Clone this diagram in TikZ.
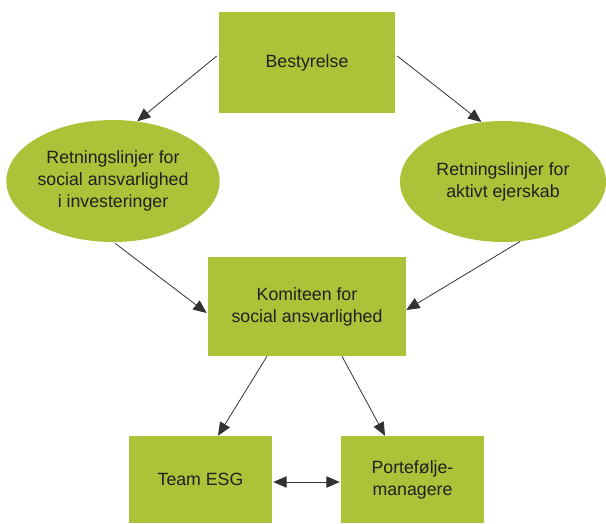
\documentclass[tikz,border=0pt]{standalone}
\usepackage{fontspec}
\setmainfont{Liberation Sans}
\usetikzlibrary{positioning, shapes.geometric, arrows.meta, calc}
\definecolor{esggreen}{RGB}{173,194,56}
\definecolor{esgtext}{RGB}{35,31,32}
\definecolor{esgline}{RGB}{50,50,50}
\tikzset{
    %Define style for boxes
    box/.style={
           rectangle,
           fill=esggreen,
           text=esgtext,
           inner sep=0pt,
           align=center,
           font=\fontsize{13.3}{16.5}\selectfont},
 %
    guidebox/.style={
           ellipse,
           fill=esggreen,
           text=esgtext,
           inner sep=0pt,
           align=center,
           font=\fontsize{13.3}{16.5}\selectfont},
%
    % Define arrow style
    arrow/.style={
           -{Triangle[length=10pt,width=8.5pt]},
           draw=esgline,
           line width=0.6pt},
    twoarrow/.style={
           arrow,
           {Triangle[length=10pt,width=8.5pt]}-{Triangle[length=10pt,width=8.5pt]}}
}
\begin{document}
\begin{tikzpicture}[x=0.75pt,y=-0.75pt]
  \useasboundingbox (0,0) rectangle (606,524);
  \node[box, minimum width=132pt, minimum height=75.75pt] (board) at (307,62.5) {Bestyrelse};
  \node[guidebox, minimum width=157.5pt, minimum height=91.5pt] (social) at (113,181)
     {Retningslinjer for\\social ansvarlighed\\i investeringer};
  \node[guidebox, minimum width=154.5pt, minimum height=90.75pt] (owner) at (503,181.5)
     {Retningslinjer for\\aktivt ejerskab};
  \node[box, minimum width=148.5pt, minimum height=74.25pt] (committee) at (307,306.5)
     {Komiteen for\\social ansvarlighed};
  \node[box, minimum width=107.25pt, minimum height=65.25pt] (team) at (200.5,479.5) {Team ESG};
  \node[box, minimum width=107.25pt, minimum height=65.25pt] (pm) at (412.5,479.5)
     {Portefølje-\\managere};
  \path
    ($(board.west)+(-2,-6.5)$) edge[arrow] (social.68.5)
    ($(board.east)+(2,-6.5)$) edge[arrow] (owner.110.8)
    ($(social.south)+(2,1)$) edge[arrow] ($(committee.west)+(-1,6.5)$)
    (owner.-74.3) edge[arrow] ($(committee.east)+(0,3.5)$)
    ($(committee.south)+(-40,0)$) edge[arrow] ($(team.north)+(17.5,0)$)
    ($(committee.south)+(35,0)$) edge[arrow] ($(pm.north)+(-27.5,0)$)
    ($(team.east)+(1,2.5)$) edge[twoarrow] ($(pm.west)+(-1,2.5)$);
\end{tikzpicture}
\end{document}
